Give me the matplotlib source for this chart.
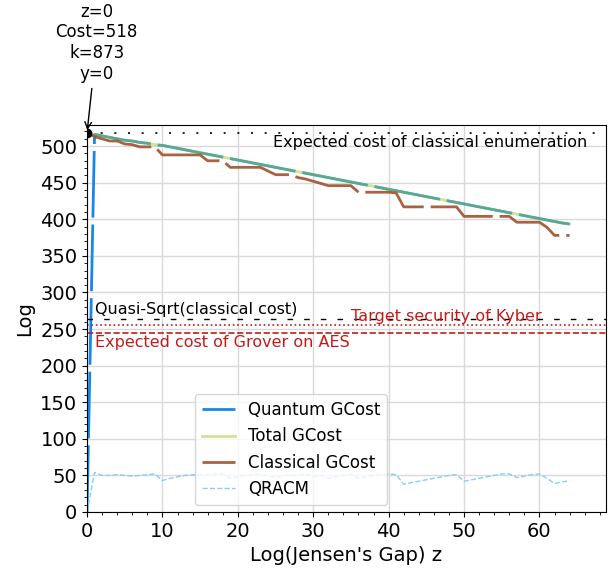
import matplotlib
matplotlib.use("Agg")
import matplotlib.pyplot as plt
from matplotlib.ticker import MultipleLocator, AutoMinorLocator

# log2 of the Jensen's gap, z = 0 .. 64
z = list(range(65))

quantum_gcost = [0, 516, 514, 512, 510, 508, 507, 505, 504, 502,
                 501, 499, 497, 495, 493, 491, 489, 487, 485, 483,
                 481, 479, 477, 475, 473, 471, 469, 467, 465, 463,
                 461, 459, 457, 455, 453, 451, 449, 447, 445, 443,
                 441, 439, 437, 435, 433, 431, 429, 427, 425, 423,
                 421, 419, 417, 415, 413, 411, 409, 407, 405, 403,
                 401, 399, 397, 395, 393.5]

total_gcost = [518, 516, 514, 512, 510, 508, 507, 505, 504, 502,
               501, 499, 497, 495, 493, 491, 489, 487, 485, 483,
               481, 479, 477, 475, 473, 471, 469, 467, 465, 463,
               461, 459, 457, 455, 453, 451, 449, 447, 445, 443,
               441, 439, 437, 435, 433, 431, 429, 427, 425, 423,
               421, 419, 417, 415, 413, 411, 409, 407, 405, 403,
               401, 399, 397, 395, 393.5]

classical_gcost = [518, 513, 510, 507, 507, 503, 502, 499, 499, 499,
                   488, 488, 488, 488, 488, 488, 480, 480, 480, 471,
                   471, 471, 471, 471, 466, 461, 461, 461, 457, 455,
                   452, 449, 446, 446, 446, 446, 437, 437, 437, 437,
                   437, 436, 417, 417, 417, 417, 417, 417, 417, 417,
                   404, 404, 404, 404, 404, 404, 404, 396, 396, 396,
                   396, 389, 378, 378, 378]

qracm = [0, 54, 50, 50, 51, 50, 49, 50, 51, 52,
         43, 46, 48, 50, 51, 51, 51, 52, 52, 46,
         48, 50, 51, 52, 49, 47, 49, 51, 50, 52,
         48, 50, 46, 48, 50, 52, 46, 48, 50, 51,
         52, 51, 38, 40, 42, 44, 46, 48, 50, 51,
         42, 44, 46, 48, 50, 52, 52, 47, 49, 51,
         52, 46, 39, 41, 43]

classical_enum = 518
quasi_sqrt = 264
kyber_target = 256
grover_aes = 245

best_z, best_cost, best_k, best_y = 0, 518, 873, 0

fig, ax = plt.subplots(figsize=(6.15, 5.73), dpi=100)
fig.subplots_adjust(left=0.1415, right=0.985, bottom=0.1065, top=0.782)

long_dash = (24, 2.5)
ax.plot(z, quantum_gcost, color="#1a86e8", lw=2, dashes=long_dash,
        label="Quantum GCost")
ax.plot(z, total_gcost, color="yellowgreen", lw=2, alpha=0.5,
        label="Total GCost")
ax.plot(z, classical_gcost, color="sienna", lw=2, alpha=0.9, dashes=long_dash,
        label="Classical GCost")
ax.plot(z, qracm, color="lightskyblue", lw=1, ls="--", label="QRACM")

ax.axhline(classical_enum, color="black", lw=1.2, dashes=(1.2, 7))
ax.text(66.3, classical_enum - 3, "Expected cost of classical enumeration",
        ha="right", va="top", fontsize=11.5)
ax.axhline(quasi_sqrt, color="black", lw=1, dashes=(4, 8))
ax.text(1, quasi_sqrt + 3, "Quasi-Sqrt(classical cost)", ha="left",
        va="bottom", fontsize=11.5)
ax.axhline(kyber_target, color="#c41a1a", lw=1.2, ls=":")
ax.text(35, kyber_target + 11, "Target security of Kyber", ha="left",
        va="center", fontsize=11.5, color="#c41a1a")
ax.axhline(grover_aes, color="#c41a1a", lw=1.2, ls="--")
ax.text(1, grover_aes - 3, "Expected cost of Grover on AES", ha="left",
        va="top", fontsize=11.5, color="#c41a1a")

ax.plot([best_z], [best_cost], "o", color="black", ms=6)
ax.annotate(f"z={best_z}\nCost={best_cost}\nk={best_k}\ny={best_y}",
            xy=(best_z, best_cost), xytext=(7, 36), textcoords="offset points",
            ha="center", va="bottom", fontsize=12, annotation_clip=False,
            arrowprops=dict(arrowstyle="->", color="black", lw=1))

ax.set_xlim(0, 68.8)
ax.set_ylim(0, 529)
ax.yaxis.set_major_locator(MultipleLocator(50))
ax.yaxis.set_minor_locator(AutoMinorLocator(5))
ax.xaxis.set_major_locator(MultipleLocator(10))
ax.xaxis.set_minor_locator(AutoMinorLocator(5))
ax.grid(True, which="major", color="#d9d9d9", lw=1)
ax.tick_params(labelsize=14)
ax.set_xlabel("Log(Jensen's Gap) z", fontsize=14)
ax.set_ylabel("Log", fontsize=14)
ax.legend(loc="lower left", bbox_to_anchor=(0.192, -0.003), fontsize=12)

fig.savefig("out.png")
